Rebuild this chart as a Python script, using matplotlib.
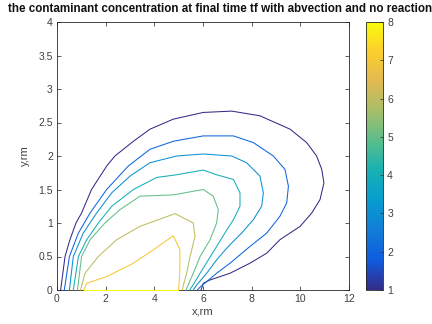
import matplotlib
matplotlib.use("Agg")
import matplotlib.pyplot as plt
from matplotlib.colors import LinearSegmentedColormap, Normalize
from matplotlib.colorbar import ColorbarBase

plt.rcParams['font.family'] = ['Liberation Sans', 'DejaVu Sans']

title_text = "the contaminant concentration at final time tf with abvection and no reaction"
x_label = "x,rm"
y_label = "y,rm"
levels = [1, 2, 3, 4, 5, 6, 7, 8]

c1_x = [0.15, 0.33, 0.53, 0.78, 1.01, 1.42, 2.04, 2.38, 3.14, 3.82, 4.78, 6.01, 7.18, 8.34, 9.58, 10.26, 10.67, 10.88, 10.97, 10.81, 10.47, 9.99, 9.16, 8.62, 7.93, 7.11, 6.29, 6.01, 5.92]
c1_y = [0.0, 0.5, 0.75, 1.0, 1.15, 1.5, 1.85, 2.0, 2.22, 2.4, 2.55, 2.65, 2.67, 2.6, 2.4, 2.2, 2.0, 1.8, 1.6, 1.35, 1.15, 0.95, 0.75, 0.55, 0.4, 0.25, 0.15, 0.1, 0.0]

c2_x = [0.30, 0.51, 0.88, 1.36, 2.04, 2.93, 3.82, 4.78, 6.01, 7.25, 8.07, 8.89, 9.37, 9.51, 9.44, 9.16, 8.62, 7.93, 7.11, 6.56, 6.15, 5.90, 5.77]
c2_y = [0.0, 0.5, 0.85, 1.15, 1.5, 1.85, 2.1, 2.22, 2.3, 2.3, 2.2, 2.0, 1.8, 1.55, 1.3, 1.1, 0.85, 0.65, 0.4, 0.25, 0.125, 0.05, 0.0]

c3_x = [0.51, 0.67, 1.08, 1.63, 2.25, 3.0, 3.82, 4.92, 6.01, 7.18, 7.79, 8.34, 8.48, 8.41, 8.07, 7.59, 7.04, 6.56, 6.15, 5.75, 5.6]
c3_y = [0.0, 0.5, 0.85, 1.15, 1.45, 1.7, 1.9, 2.0, 2.03, 2.0, 1.9, 1.7, 1.45, 1.25, 1.05, 0.85, 0.65, 0.45, 0.25, 0.08, 0.0]

c4_x = [0.67, 0.88, 1.22, 1.70, 2.25, 3.14, 4.10, 4.92, 6.01, 6.56, 7.25, 7.52, 7.52, 7.25, 6.9, 6.56, 6.22, 5.88, 5.6, 5.45]
c4_y = [0.0, 0.5, 0.75, 1.0, 1.25, 1.5, 1.68, 1.72, 1.79, 1.72, 1.65, 1.45, 1.25, 1.05, 0.85, 0.65, 0.45, 0.25, 0.08, 0.0]

c5_x = [0.84, 1.01, 1.36, 1.97, 2.59, 3.41, 4.78, 6.01, 6.42, 6.63, 6.56, 6.29, 5.88, 5.6, 5.4, 5.3]
c5_y = [0.0, 0.5, 0.75, 1.0, 1.2, 1.4, 1.42, 1.5, 1.4, 1.2, 1.0, 0.75, 0.5, 0.25, 0.08, 0.0]

c6_x = [0.97, 1.15, 1.70, 2.45, 3.41, 4.85, 5.60, 5.67, 5.47, 5.33, 5.2, 5.15]
c6_y = [0.0, 0.25, 0.5, 0.75, 0.95, 1.14, 1.0, 0.8, 0.5, 0.25, 0.08, 0.0]

c7_x = [1.11, 1.22, 2.04, 3.14, 3.96, 4.78, 5.05, 5.05, 5.0]
c7_y = [0.0, 0.1, 0.2, 0.4, 0.6, 0.81, 0.6, 0.3, 0.0]

c8_x = [1.12, 4.98]
c8_y = [0.0, 0.0]

contours_x = [c1_x, c2_x, c3_x, c4_x, c5_x, c6_x, c7_x, c8_x]
contours_y = [c1_y, c2_y, c3_y, c4_y, c5_y, c6_y, c7_y, c8_y]

parula_anchors = [
    (0.2081, 0.1663, 0.5292), (0.0591, 0.3598, 0.8683), (0.0723, 0.4887, 0.8467),
    (0.0265, 0.6137, 0.8135), (0.0843, 0.6928, 0.7062), (0.3482, 0.7424, 0.5473),
    (0.6473, 0.7456, 0.4188), (0.8824, 0.7274, 0.3217), (0.9880, 0.8066, 0.1794),
    (0.9763, 0.9831, 0.0538)]
parula = LinearSegmentedColormap.from_list("parula", parula_anchors, N=256)
norm = Normalize(vmin=1, vmax=8)

fig = plt.figure(figsize=(4.32, 3.24), dpi=100)
ax = fig.add_axes([57/432, 34/324, 292/432, 268/324])
for lev, xs, ys in zip(levels, contours_x, contours_y):
    ax.plot(xs, ys, color=parula(norm(lev)), lw=0.75, clip_on=False, zorder=3)

ax.set_xlim(0, 12)
ax.set_ylim(0, 4)
ax.set_xticks([0, 2, 4, 6, 8, 10, 12])
ax.set_yticks([0, 0.5, 1, 1.5, 2, 2.5, 3, 3.5, 4])
ax.set_yticklabels(['0', '0.5', '1', '1.5', '2', '2.5', '3', '3.5', '4'])
ax.tick_params(direction='in', top=True, right=True, labelsize=7.5, colors='#404040',
               length=3, width=0.6, pad=3)
for sp in ax.spines.values():
    sp.set_linewidth(0.6)
    sp.set_color('#262626')
ax.set_xlabel(x_label, fontsize=8, color='#404040', labelpad=2)
ax.set_ylabel(y_label, fontsize=8, color='#404040', labelpad=6)

fig.text(8/432, 1 - 9/324, title_text, fontsize=8.35, fontweight='bold', ha='left', va='center',
         color='#111111')

cax = fig.add_axes([366/432, 34/324, 17/432, 268/324])
cb = ColorbarBase(cax, cmap=parula, norm=norm, orientation='vertical')
cb.set_ticks(levels)
cb.ax.tick_params(direction='in', labelsize=7.5, colors='#404040', length=2, width=0.6, pad=3)
cb.outline.set_linewidth(0.6)
cb.outline.set_edgecolor('#262626')

fig.savefig("out.png", dpi=100)
